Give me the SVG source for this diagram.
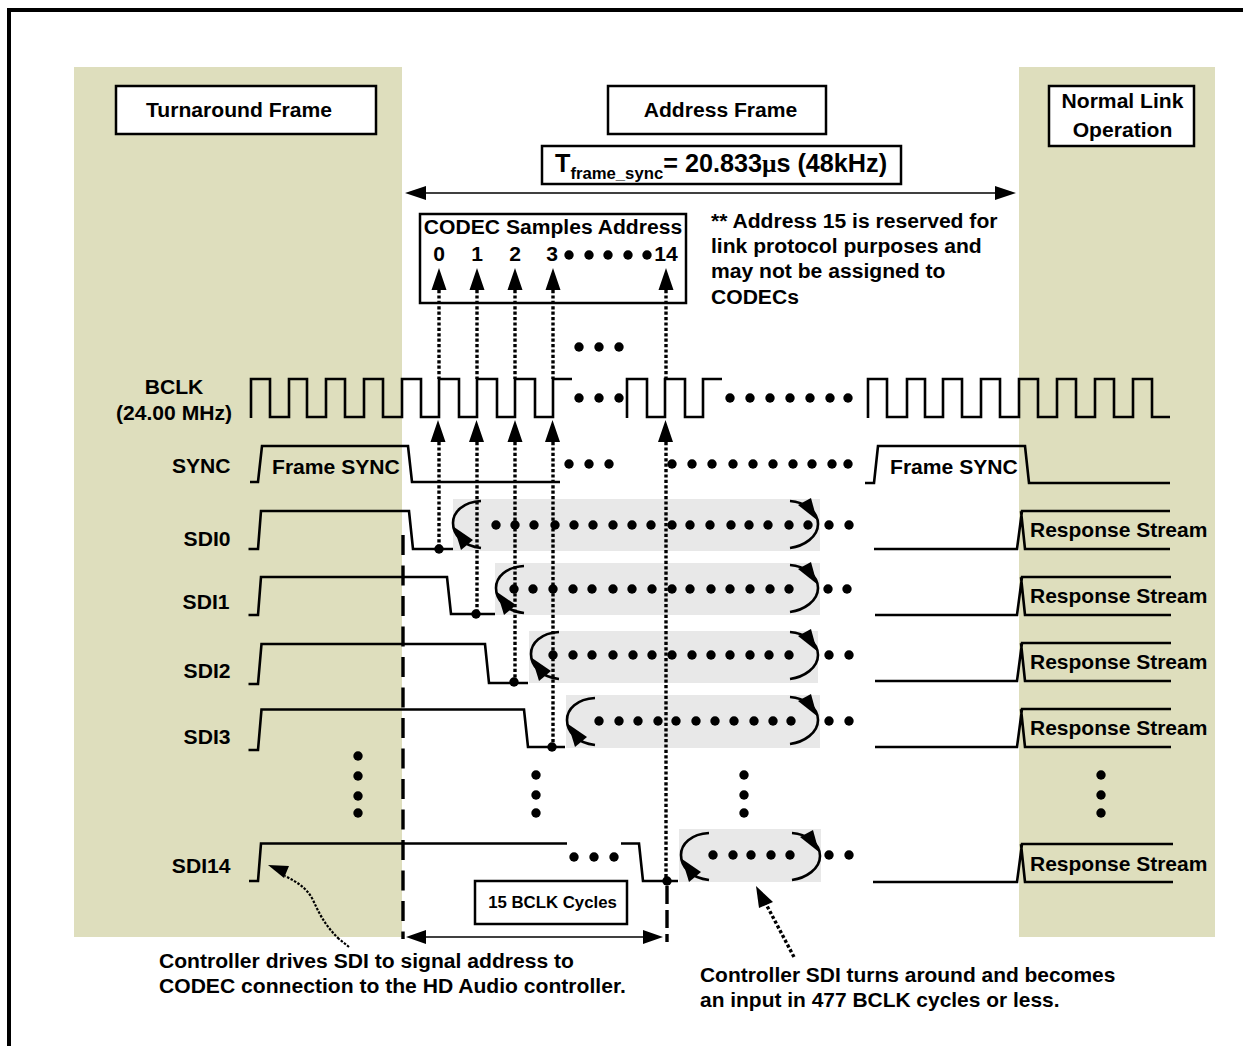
<svg xmlns="http://www.w3.org/2000/svg" width="1243" height="1046" viewBox="0 0 1243 1046">
<style>
text{font-family:"Liberation Sans",Arial,sans-serif;font-weight:bold;fill:#000;font-size:21.1px}
.m{text-anchor:middle}.e{text-anchor:end}
.box{fill:#fff;stroke:#000;stroke-width:2.5}
.tan{fill:#DEDEBD}.band{fill:#E8E8E8}
.w{fill:none;stroke:#000;stroke-width:2.6}
.dash{fill:none;stroke:#000;stroke-width:3.4;stroke-dasharray:20 10.500}
.dot{fill:none;stroke:#000;stroke-width:3.4;stroke-dasharray:3.2 2.2}
.thin{fill:none;stroke:#000;stroke-width:1.5}
.arc{fill:none;stroke:#000;stroke-width:2.6}
.d circle{fill:#000;r:4.7px}
</style>
<defs>
<g id="loopL"><path class="arc" d="M28,2 C10,3 0,13 0,24 C0,36 10,47 28,49"/><path d="M1,28 L8,51 L20,41 Z"/></g>
<g id="loopR"><path class="arc" d="M0,2 C14,3 28,12 28,25 C28,38 14,47 0,49"/><path d="M27,21 L8,6 L21,-1 Z"/></g>
</defs>
<rect width="1243" height="1046" fill="#fff"/>
<path id="frame" d="M9,1046 V10 H1243" fill="none" stroke="#000" stroke-width="4"/>
<rect class="tan" x="74" y="67" width="328" height="870"/>
<rect class="tan" x="1019" y="67" width="196" height="870"/>
<rect class="band" x="453" y="499" width="367" height="52"/>
<rect class="band" x="495" y="563" width="325" height="52"/>
<rect class="band" x="529" y="631" width="289" height="52"/>
<rect class="band" x="566" y="695" width="254" height="53"/>
<rect class="band" x="679" y="829" width="142" height="53"/>

<g id="node-turnaround"><rect class="box" x="116" y="86" width="260" height="48"/><text class="m" x="239" y="117">Turnaround Frame</text></g>
<g id="node-address"><rect class="box" x="608" y="86" width="218" height="48"/><text class="m" x="720.500" y="117">Address Frame</text></g>
<g id="node-normal"><rect class="box" x="1049" y="86" width="145" height="60"/><text class="m" x="1122.500" y="108">Normal Link</text><text class="m" x="1122.500" y="137">Operation</text></g>
<g id="node-tframe"><rect class="box" x="542" y="146" width="359" height="38"/><text x="555" y="172" style="font-size:25.200px">T<tspan dy="7" style="font-size:16.700px">frame_sync</tspan><tspan dy="-7">= 20.833</tspan><tspan style="font-family:'Liberation Serif',serif">µ</tspan>s (48kHz)</text></g>
<g id="node-codec"><rect class="box" x="420" y="214" width="266" height="89"/><text class="m" x="553" y="234">CODEC Samples Address</text><text class="m" x="439" y="261">0</text><text class="m" x="477" y="261">1</text><text class="m" x="515" y="261">2</text><text class="m" x="552" y="261">3</text><text class="m" x="666" y="261">14</text></g>
<g id="node-note"><text x="711" y="228">** Address 15 is reserved for</text><text x="711" y="253">link protocol purposes and</text><text x="711" y="278">may not be assigned to</text><text x="711" y="304">CODECs</text></g>
<g id="node-labels"><text class="m" x="174" y="394">BCLK</text><text class="m" x="174" y="420">(24.00 MHz)</text><text class="e" x="230.500" y="473">SYNC</text><text class="e" x="230.500" y="546">SDI0</text><text class="e" x="229.500" y="609">SDI1</text><text class="e" x="230.500" y="678">SDI2</text><text class="e" x="230.500" y="744">SDI3</text><text class="e" x="230.500" y="873">SDI14</text></g>
<g id="node-sync-text"><text x="272" y="474">Frame SYNC</text><text x="890" y="474">Frame SYNC</text></g>
<g id="node-response" style="font-size:21px"><text x="1030" y="537" style="font-size:21px">Response Stream</text><text x="1030" y="603" style="font-size:21px">Response Stream</text><text x="1030" y="669" style="font-size:21px">Response Stream</text><text x="1030" y="735" style="font-size:21px">Response Stream</text><text x="1030" y="871" style="font-size:21px">Response Stream</text></g>
<g id="node-cycles"><rect class="box" x="475" y="881" width="152" height="43"/><text class="m" x="552.500" y="908" style="font-size:16.800px">15 BCLK Cycles</text></g>
<g id="node-notes-bottom"><text x="159" y="968">Controller drives SDI to signal address to</text><text x="159" y="993">CODEC connection to the HD Audio controller.</text><text x="700" y="982" style="font-size:20.950px">Controller SDI turns around and becomes</text><text x="700" y="1007" style="font-size:20.950px">an input in 477 BCLK cycles or less.</text></g>

<g id="connectors">
<g id="waveforms">
<path class="w" d="M251,418 V379 H270 V417 H289 V379 H307 V417 H326 V379 H345 V417 H364 V379 H383 V417 H402 V379 H421 V417 H439 V379 H459 V417 H477 V379 H497 V417 H515 V379 H535 V417 H553 V379 H572"/>
<path class="w" d="M627,418 V379 H647 V417 H665 V379 H685 V417 H703 V379 H722"/>
<path class="w" d="M868,418 V379 H887 V417 H907 V379 H925 V417 H943 V379 H962 V417 H981 V379 H1000 V417 H1019 V379 H1038 V417 H1057 V379 H1076 V417 H1095 V379 H1114 V417 H1133 V379 H1152 V417 H1170"/>
<path class="w" d="M250,482 H258 L262,446 H408 L412,482 H560"/>
<path class="w" d="M865,483 H874 L878,446 H1025 L1029,483 H1170"/>
<path class="w" d="M248.500,549 H258 L261,511 H409 L413,549 H453"/>
<path class="w" d="M248.500,615 H258 L261,577 H447 L451,614 H495"/>
<path class="w" d="M248.500,684 H258 L261.500,644 H485 L489,683 H528"/>
<path class="w" d="M248.500,750 H258 L261.500,709.500 H524 L528,747 H565"/>
<path class="w" d="M249,881 H258 L261,843.500 H567 M621,843.500 H639 L643,881 H678"/>
<g id="responses">
<path class="w" d="M874,549 H1017 L1022,511 H1170 M1021,511 L1025,549 H1170"/>
<path class="w" d="M875,615 H1017 L1022,577 H1171 M1021,577 L1025,615 H1171"/>
<path class="w" d="M875,681 H1017 L1022,643 H1171 M1021,643 L1025,681 H1171"/>
<path class="w" d="M875,747 H1017 L1022,709 H1171 M1021,709 L1025,747 H1171"/>
<path class="w" d="M873,882 H1017 L1022,844 H1173 M1021,844 L1025,882 H1173"/>
</g>
</g>
<path class="dash" d="M403,535 V939"/>
<path class="dash" d="M667,886 V942" style="stroke-dasharray:18 6"/>
<g id="dotted">
<path class="dot" d="M439,290 V379 M477,290 V379 M515,290 V379 M553,290 V379 M666,290 V379"/>
<path class="dot" d="M439,442 V548 M477,442 V614 M515,442 V682 M553,442 V747 M666,442 V881"/>
<path d="M439,268 L431.500,290 H446.500 Z M477,268 L469.500,290 H484.500 Z M515,268 L507.500,290 H522.500 Z M553,268 L545.500,290 H560.500 Z M666,268 L658.500,290 H673.500 Z"/>
<path d="M438,420 L430.500,442 H445.500 Z M476.500,420 L469,442 H484 Z M515,420 L507.500,442 H522.500 Z M552.500,420 L545,442 H560 Z M665.500,420 L658,442 H673 Z"/>
</g>
<path class="thin" d="M420,193 H1000"/>
<path d="M405,193 L426,186 V200 Z M1016,193 L995,186 V200 Z"/>
<path class="thin" d="M420,937 H650"/>
<path d="M406,937 L426,930 V944 Z M663,937 L643,930 V944 Z"/>
<path class="dot" d="M339,939 C328,928 322,920 313,900 C307,888 297,882 285,876 M349,947 L339,939" style="stroke-width:2.2;stroke-dasharray:2.500 1.500"/>
<path d="M268,865 L289,866 L284,878 Z"/>
<path class="dot" d="M794,957 L766,904"/>
<path d="M756,886 L759,908 L773,902 Z"/>
<use href="#loopL" x="453" y="499"/><use href="#loopR" x="790" y="499"/>
<use href="#loopL" x="496" y="564"/><use href="#loopR" x="790" y="563"/>
<use href="#loopL" x="531" y="630"/><use href="#loopR" x="790" y="630"/>
<use href="#loopL" x="567" y="696"/><use href="#loopR" x="790" y="695"/>
<use href="#loopL" x="681" y="831"/><use href="#loopR" x="792" y="831"/>
</g>
<g id="dots" class="d">
<circle cx="439" cy="549"/><circle cx="476" cy="614"/><circle cx="514" cy="682"/><circle cx="552" cy="747"/><circle cx="667" cy="881"/>
<circle cx="569" cy="255"/><circle cx="589" cy="255"/><circle cx="608" cy="255"/><circle cx="628" cy="255"/><circle cx="647" cy="255"/>
<circle cx="579" cy="347"/><circle cx="599" cy="347"/><circle cx="619" cy="347"/>
<circle cx="579" cy="398"/><circle cx="599" cy="398"/><circle cx="619" cy="398"/>
<circle cx="730" cy="398"/><circle cx="750" cy="398"/><circle cx="770" cy="398"/><circle cx="790" cy="398"/><circle cx="810" cy="398"/><circle cx="830" cy="398"/><circle cx="848" cy="398"/>
<circle cx="569" cy="464"/><circle cx="589" cy="464"/><circle cx="609" cy="464"/>
<circle cx="672" cy="464"/><circle cx="692" cy="464"/><circle cx="712" cy="464"/><circle cx="733" cy="464"/><circle cx="753" cy="464"/><circle cx="773" cy="464"/><circle cx="793" cy="464"/><circle cx="812" cy="464"/><circle cx="832" cy="464"/><circle cx="848" cy="464"/>
<circle cx="496" cy="525"/><circle cx="515" cy="525"/><circle cx="534" cy="525"/><circle cx="555" cy="525"/><circle cx="574" cy="525"/><circle cx="593" cy="525"/><circle cx="613" cy="525"/><circle cx="632" cy="525"/><circle cx="651" cy="525"/><circle cx="672" cy="525"/><circle cx="690" cy="525"/><circle cx="710" cy="525"/><circle cx="731" cy="525"/><circle cx="749" cy="525"/><circle cx="768" cy="525"/><circle cx="789" cy="525"/><circle cx="808" cy="525"/><circle cx="829" cy="525"/><circle cx="849" cy="525"/>
<circle cx="514" cy="589"/><circle cx="533" cy="589"/><circle cx="553" cy="589"/><circle cx="573" cy="589"/><circle cx="592" cy="589"/><circle cx="613" cy="589"/><circle cx="632" cy="589"/><circle cx="652" cy="589"/><circle cx="672" cy="589"/><circle cx="690" cy="589"/><circle cx="711" cy="589"/><circle cx="730" cy="589"/><circle cx="750" cy="589"/><circle cx="770" cy="589"/><circle cx="789" cy="589"/><circle cx="828" cy="589"/><circle cx="847" cy="589"/>
<circle cx="553" cy="655"/><circle cx="573" cy="655"/><circle cx="592" cy="655"/><circle cx="613" cy="655"/><circle cx="633" cy="655"/><circle cx="652" cy="655"/><circle cx="672" cy="655"/><circle cx="692" cy="655"/><circle cx="711" cy="655"/><circle cx="730" cy="655"/><circle cx="750" cy="655"/><circle cx="769" cy="655"/><circle cx="789" cy="655"/><circle cx="829" cy="655"/><circle cx="849" cy="655"/>
<circle cx="599" cy="721"/><circle cx="619" cy="721"/><circle cx="638" cy="721"/><circle cx="658" cy="721"/><circle cx="676" cy="721"/><circle cx="696" cy="721"/><circle cx="715" cy="721"/><circle cx="734" cy="721"/><circle cx="754" cy="721"/><circle cx="773" cy="721"/><circle cx="791" cy="721"/><circle cx="829" cy="721"/><circle cx="849" cy="721"/>
<circle cx="713" cy="855"/><circle cx="733" cy="855"/><circle cx="751" cy="855"/><circle cx="771" cy="855"/><circle cx="790" cy="855"/><circle cx="829" cy="855"/><circle cx="849" cy="855"/>
<circle cx="574" cy="857"/><circle cx="594" cy="857"/><circle cx="614" cy="857"/>
<circle cx="358" cy="756"/><circle cx="358" cy="776"/><circle cx="358" cy="796"/><circle cx="358" cy="813"/>
<circle cx="536" cy="775"/><circle cx="536" cy="795"/><circle cx="536" cy="813"/>
<circle cx="744" cy="775"/><circle cx="744" cy="795"/><circle cx="744" cy="813"/>
<circle cx="1101" cy="775"/><circle cx="1101" cy="795"/><circle cx="1101" cy="813"/>
</g>
</svg>
